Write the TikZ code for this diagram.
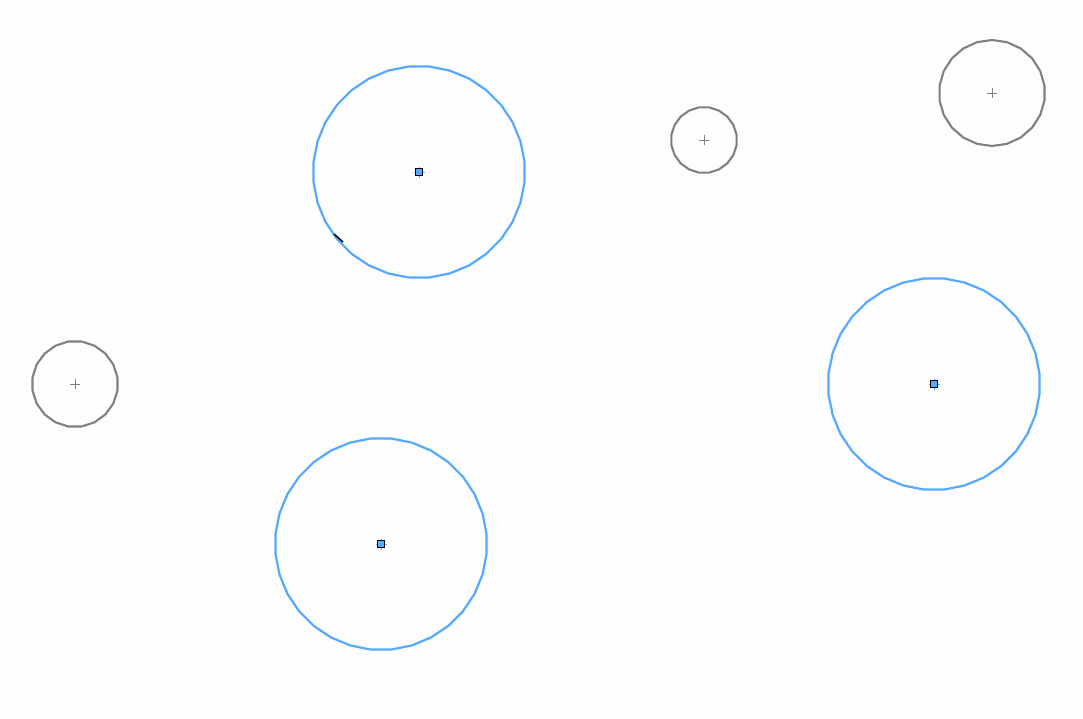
\documentclass[tikz,border=0pt]{standalone}
\begin{document}
\begin{tikzpicture}[x=1pt,y=-1pt,
  bluec/.style={draw=circblue,line width=2.2pt},
  grayc/.style={draw=circgray,line width=2.1pt},
  sq/.style={draw=black,fill=circblue,line width=1pt,minimum size=7pt,inner sep=0pt,outer sep=0pt},
  plusm/.style={draw=circgray,line width=0.7pt}]
\definecolor{circblue}{HTML}{55AAFF}
\definecolor{circgray}{HTML}{808080}
\definecolor{bg}{HTML}{FDFDFD}
\fill[bg] (0,0) rectangle (1083,718);
\useasboundingbox (0,0) rectangle (1083,718);
% polygon circles
\newcommand{\polyc}[5]{%
  \draw[#1] plot[samples=#5+1,domain=0:#5,variable=\k] ({#2+#4*cos(180/#5+360/#5*\k)},{#3+#4*sin(180/#5+360/#5*\k)}) -- cycle;}
\polyc{bluec}{419}{172}{106}{32}
\polyc{bluec}{381}{544}{106}{32}
\polyc{bluec}{934}{384}{106}{32}
\polyc{grayc}{704}{140}{33}{20}
\polyc{grayc}{992}{93}{53}{22}
\polyc{grayc}{75}{384}{43}{20}
% centres
\foreach \n/\x/\y in {c1/419/172,c2/381/544,c3/934/384}{
  \draw[circblue,line width=0.6pt] (\x-5.5,\y) -- (\x+5.5,\y) (\x,\y-5.5) -- (\x,\y+5.5);
  \node[sq] (\n) at (\x,\y) {};
}
\foreach \n/\x/\y in {g1/704/140,g2/992/93,g3/75/384}{
  \coordinate (\n) at (\x,\y);
  \draw[plusm] ([xshift=-5pt]\n) -- ([xshift=5pt]\n) ([yshift=-5pt]\n) -- ([yshift=5pt]\n);
}
% small black tick
\coordinate (t1) at (334,234);
\coordinate (t2) at (343,242);
\draw[black,line width=1.5pt] (t1) -- (t2);
\end{tikzpicture}
\end{document}
